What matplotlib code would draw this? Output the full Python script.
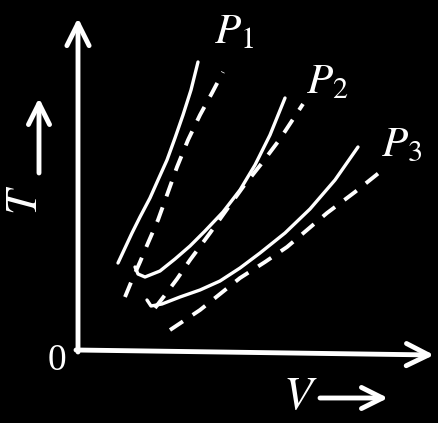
import numpy as np
import matplotlib.pyplot as plt

plt.rcParams['mathtext.fontset'] = 'stix'

# curve points (pixel units, y downwards)
p1_solid_v = [118, 125, 132, 140, 150, 158, 167, 175, 183, 191, 198]
p1_solid_t = [263, 248, 233, 217, 198, 180, 160, 138, 115, 90, 62]
p1_dash_v = [125, 132, 140, 148, 158, 167, 177, 188, 200, 212, 223]
p1_dash_t = [297, 280, 262, 243, 220, 195, 167, 140, 115, 93, 72]

p2_solid_v = [135, 138, 145, 160, 175, 190, 205, 223, 240, 255, 270, 285]
p2_solid_t = [267, 274, 277, 271, 259, 246, 231, 212, 190, 165, 135, 98]
p2_dash_v = [155, 165, 177, 190, 210, 225, 243, 262, 280, 303]
p2_dash_t = [308, 295, 279, 260, 233, 212, 187, 163, 139, 104]

p3_solid_v = [147, 151, 162, 180, 200, 220, 240, 260, 285, 310, 335, 358]
p3_solid_t = [300, 306, 304, 297, 290, 281, 268, 253, 233, 209, 180, 147]
p3_dash_v = [170, 185, 200, 220, 240, 265, 287, 307, 327, 355, 380]
p3_dash_t = [330, 320, 310, 294, 278, 262, 247, 230, 213, 192, 172]

labels = ['$P_1$', '$P_2$', '$P_3$']
label_v = [214, 306, 381]
label_t = [52, 102, 165]

fig = plt.figure(figsize=(4.39, 4.23), dpi=100, facecolor='black')
ax = fig.add_axes([0, 0, 1, 1])
ax.set_facecolor('black')
ax.set_xlim(0, 439)
ax.set_ylim(423, 0)
ax.axis('off')

# axes arrows
arrow = dict(arrowstyle='->', color='white', lw=3.5, mutation_scale=40,
             shrinkA=0, shrinkB=0)
ax.annotate('', xy=(78, 18), xytext=(78, 352), arrowprops=arrow)
ax.annotate('', xy=(434, 355), xytext=(76, 350), arrowprops=arrow)

lw = 2.4
for v, t in [(p1_solid_v, p1_solid_t), (p2_solid_v, p2_solid_t), (p3_solid_v, p3_solid_t)]:
    ax.plot(v, t, color='white', lw=lw, solid_joinstyle='round',
            solid_capstyle='round')
for v, t in [(p1_dash_v, p1_dash_t), (p2_dash_v, p2_dash_t), (p3_dash_v, p3_dash_t)]:
    ax.plot(v, t, color='white', lw=lw + 0.4, dashes=(4, 3))

for lab, v, t in zip(labels, label_v, label_t):
    ax.text(v, t, lab, color='white', fontsize=31, ha='left', va='bottom')

ax.text(57, 361, '0', color='white', fontsize=27, family='Liberation Serif',
        ha='center', va='center')
ax.text(300, 396, '$V$', color='white', fontsize=34, ha='center', va='center')
ax.annotate('', xy=(388, 398), xytext=(320, 398),
            arrowprops=dict(arrowstyle='->', color='white', lw=3.5,
                            mutation_scale=38, shrinkA=0, shrinkB=0))
ax.text(25, 200, '$T$', color='white', fontsize=32, rotation=90,
        ha='center', va='center')
ax.annotate('', xy=(39, 98), xytext=(39, 173),
            arrowprops=dict(arrowstyle='->', color='white', lw=3.5,
                            mutation_scale=38, shrinkA=0, shrinkB=0))

fig.savefig('out.png', dpi=100, facecolor='black')
